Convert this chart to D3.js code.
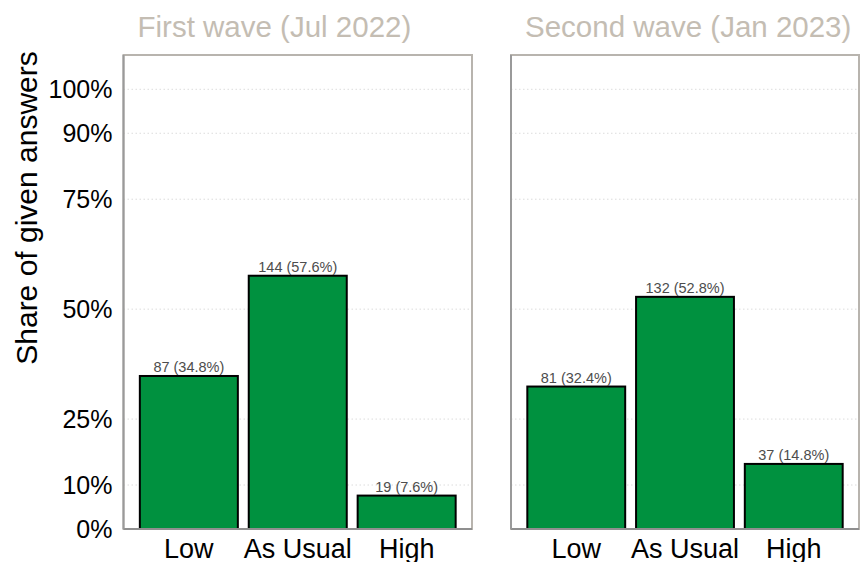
<!DOCTYPE html>
<html><head><meta charset="utf-8">
<script src="https://cdn.jsdelivr.net/npm/d3@7"></script>
<style>body{margin:0;background:#fff}svg{display:block}</style>
</head><body>
<svg id="c" width="860" height="562"></svg>
<script>
const categories = ["Low", "As Usual", "High"];
const waves = ["First wave (Jul 2022)", "Second wave (Jan 2023)"];
const wave1Counts = [87, 144, 19];
const wave2Counts = [81, 132, 37];
const wave1Pct = [34.8, 57.6, 7.6];
const wave2Pct = [32.4, 52.8, 14.8];
const yTicks = [0, 10, 25, 50, 75, 90, 100];
const yTickLabels = ["0%", "10%", "25%", "50%", "75%", "90%", "100%"];

(function () {
const svg = d3.select("#c");
const font = "'Liberation Sans', Arial, sans-serif";
const pTop = 55, pBottom = 529;
const panels = [[123.5, 472], [511, 859]];
const y = d3.scaleLinear().domain([0, 107.8]).range([pBottom, pTop]);

const data = [
  {title: waves[0], counts: wave1Counts, pct: wave1Pct},
  {title: waves[1], counts: wave2Counts, pct: wave2Pct}
];

data.forEach((d, i) => {
  const [x0, x1] = panels[i];
  const x = d3.scaleBand().domain(categories).range([x0, x1]).paddingInner(0.1).paddingOuter(0.15);
  const g = svg.append("g");
  g.selectAll("line.grid").data(yTicks).enter().append("line")
    .attr("x1", x0).attr("x2", x1).attr("y1", v => y(v)).attr("y2", v => y(v))
    .attr("stroke", "#dcdcdc").attr("stroke-width", 1).attr("stroke-dasharray", "1.5,2.5");
  categories.forEach((c, j) => {
    g.append("rect")
      .attr("x", x(c)).attr("width", x.bandwidth())
      .attr("y", y(d.pct[j])).attr("height", y(0) - y(d.pct[j]))
      .attr("fill", "#00913f").attr("stroke", "#000").attr("stroke-width", 2);
    g.append("text")
      .attr("x", x(c) + x.bandwidth() / 2).attr("y", y(d.pct[j]) - 4)
      .attr("text-anchor", "middle").attr("font-family", font).attr("font-size", 14.5)
      .attr("fill", "#4d4d4d")
      .text(`${d.counts[j]} (${d.pct[j].toFixed(1)}%)`);
  });
  g.append("rect").attr("x", x0).attr("y", pTop).attr("width", x1 - x0).attr("height", pBottom - pTop)
    .attr("fill", "none").attr("stroke", "#b8b4ae").attr("stroke-width", 2);
  g.append("line").attr("x1", x0).attr("x2", x1).attr("y1", pBottom).attr("y2", pBottom)
    .attr("stroke", "#8f8f8f").attr("stroke-width", 2);
  g.append("line").attr("x1", x0).attr("x2", x0).attr("y1", pTop).attr("y2", pBottom)
    .attr("stroke", "#9a9a9a").attr("stroke-width", 2);
  const xa = d3.axisBottom(x).tickSize(0).tickPadding(0);
  const ax = g.append("g").attr("transform", `translate(0,${pBottom})`).call(xa);
  ax.select(".domain").remove();
  ax.selectAll("text").attr("font-family", font).attr("font-size", 27).attr("fill", "#000")
    .attr("dy", null).attr("y", 29);
  g.append("text").attr("x", x0 + 14).attr("y", 37)
    .attr("text-anchor", "start").attr("font-family", font).attr("font-size", 29.5)
    .attr("fill", "#c4bdb3").text(d.title);
});

const ya = d3.axisLeft(y).tickValues(yTicks).tickFormat((v, i) => yTickLabels[i]).tickSize(0).tickPadding(11);
const yg = svg.append("g").attr("transform", `translate(${panels[0][0]},0)`).call(ya);
yg.select(".domain").remove();
yg.selectAll("text").attr("font-family", font).attr("font-size", 25).attr("fill", "#000");

svg.append("text").attr("transform", "translate(37,208) rotate(-90)")
  .attr("text-anchor", "middle").attr("font-family", font).attr("font-size", 30)
  .attr("fill", "#000").text("Share of given answers");
})();
</script>
</body></html>
